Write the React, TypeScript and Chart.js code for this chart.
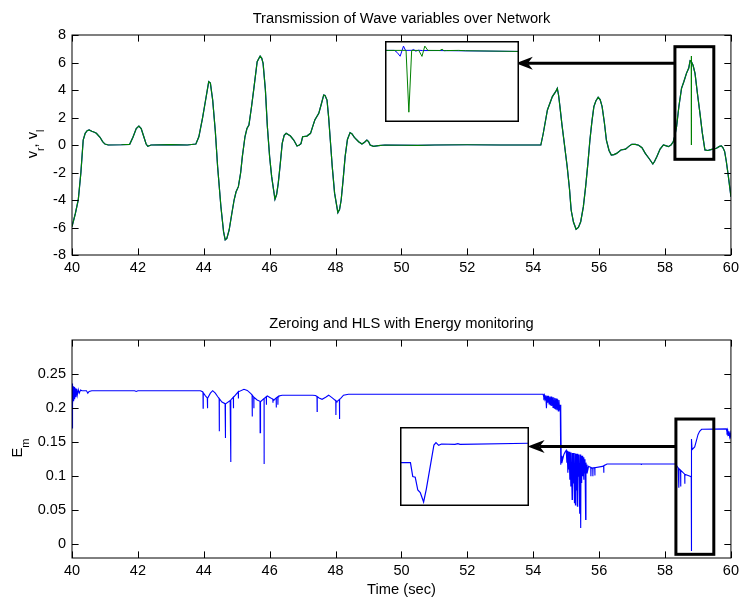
import React, { useEffect, useRef } from "react";
import { Chart, registerables } from "chart.js";

Chart.register(...registerables);

const FONT = '"Liberation Sans", Arial, Helvetica, sans-serif';

type Pt = [number, number];

// ---------- tick values ----------
const timeTicks = [40, 42, 44, 46, 48, 50, 52, 54, 56, 58, 60];
const vTicks = [-8, -6, -4, -2, 0, 2, 4, 6, 8];
const vTickLabels = ["-8", "-6", "-4", "-2", "0", "2", "4", "6", "8"];
const emTicks = [0, 0.05, 0.1, 0.15, 0.2, 0.25];
const emTickLabels = ["0", "0.05", "0.1", "0.15", "0.2", "0.25"];

// ---------- top panel: wave variables (time, value) ----------
const vrPoints: Pt[] = [
  [40.0, -5.94], [40.1, -5.0], [40.19, -4.0], [40.27, -2.0], [40.34, 0.36], [40.4, 0.85], [40.46, 1.04], [40.52, 1.09],
  [40.6, 1.0], [40.68, 0.93], [40.74, 0.85], [40.85, 0.56], [40.93, 0.25], [41.0, 0.07], [41.1, 0.0], [41.5, 0.02],
  [41.75, 0.05], [41.85, 0.56], [41.95, 1.2], [42.03, 1.38], [42.1, 1.2], [42.18, 0.6], [42.25, 0.07], [42.3, -0.1],
  [42.4, 0.0], [43.0, 0.02], [43.5, 0.0], [43.76, 0.07], [43.85, 0.6], [43.96, 1.94], [44.05, 3.2], [44.15, 4.6],
  [44.2, 4.5], [44.27, 3.27], [44.35, 1.0], [44.42, -1.58], [44.52, -4.49], [44.6, -6.3], [44.65, -6.9], [44.7, -6.8],
  [44.77, -6.18], [44.85, -5.0], [44.92, -4.0], [44.98, -3.4], [45.05, -3.03], [45.12, -2.0], [45.17, -0.85], [45.25, 0.6],
  [45.31, 1.2], [45.37, 1.45], [45.45, 2.8], [45.52, 4.12], [45.62, 6.06], [45.71, 6.47], [45.76, 6.3], [45.8, 5.94],
  [45.87, 4.0], [45.93, 1.33], [46.0, -0.9], [46.06, -2.3], [46.16, -3.95], [46.21, -3.6], [46.26, -2.79], [46.32, -1.4],
  [46.38, 0.12], [46.44, 0.7], [46.5, 0.85], [46.63, 0.65], [46.73, 0.36], [46.83, -0.07], [46.9, 0.0], [46.95, 0.1],
  [47.0, 0.6], [47.13, 0.65], [47.24, 0.85], [47.3, 1.3], [47.37, 1.82], [47.49, 2.3], [47.57, 3.0], [47.64, 3.64],
  [47.68, 3.6], [47.74, 3.27], [47.79, 2.0], [47.84, 0.36], [47.9, -1.6], [47.97, -3.5], [48.07, -4.92], [48.12, -4.7],
  [48.17, -4.0], [48.23, -2.5], [48.29, -0.85], [48.36, 0.4], [48.44, 0.9], [48.5, 0.8], [48.57, 0.56], [48.7, 0.24],
  [48.8, 0.07], [48.88, 0.2], [48.95, 0.36], [49.0, 0.25], [49.05, 0.0], [49.15, -0.1], [49.3, -0.05], [49.5, 0.0],
  [50.5, -0.02], [51.0, 0.0], [52.0, 0.02], [53.0, 0.0], [54.23, 0.0], [54.3, 0.8], [54.43, 2.55], [54.58, 3.52],
  [54.68, 3.88], [54.73, 4.12], [54.77, 3.6], [54.81, 2.79], [54.87, 1.5], [54.93, 0.36], [55.03, -1.58], [55.1, -3.2],
  [55.15, -4.73], [55.22, -5.6], [55.3, -6.13], [55.37, -6.0], [55.44, -5.58], [55.52, -4.5], [55.59, -3.03], [55.66, -1.3],
  [55.72, 0.36], [55.78, 1.7], [55.84, 2.79], [55.9, 3.2], [55.97, 3.47], [56.03, 3.3], [56.09, 2.79], [56.16, 1.6],
  [56.22, 0.36], [56.3, -0.4], [56.37, -0.73], [56.45, -0.7], [56.53, -0.61], [56.66, -0.36], [56.8, -0.3], [56.9, -0.1],
  [56.99, 0.05], [57.1, 0.05], [57.2, -0.02], [57.3, -0.2], [57.4, -0.61], [57.52, -1.0], [57.63, -1.38], [57.68, -1.2],
  [57.75, -0.85], [57.85, -0.3], [57.95, 0.0], [58.02, -0.05], [58.1, -0.12], [58.18, 0.0], [58.25, 0.24], [58.3, 0.7],
  [58.35, 1.33], [58.42, 2.8], [58.5, 4.12], [58.57, 4.6], [58.65, 5.21], [58.72, 5.6], [58.76, 6.13], [58.8, 6.06],
  [58.85, 5.8], [58.91, 5.21], [58.98, 3.8], [59.06, 2.3], [59.13, 0.9], [59.21, -0.36], [59.3, -0.4], [59.36, -0.36],
  [59.45, -0.3], [59.56, -0.24], [59.65, -0.1], [59.71, -0.07], [59.76, -0.2], [59.81, -0.48], [59.86, -1.2], [59.91, -2.06],
  [59.96, -3.0], [60.0, -3.76],
];
// the received variable shows one drop-out spike
const vlSpike: Pt[] = [[58.797, 6.08], [58.798, 0.0], [58.799, 6.47], [58.801, 6.06]];

// ---------- bottom panel: energy (time, value) ----------
const emBase: Pt[] = [
  [40.0, 0.171], [40.004, 0.236], [40.01, 0.2], [40.02, 0.234], [40.03, 0.205], [40.04, 0.232], [40.05, 0.21], [40.065, 0.231],
  [40.08, 0.213], [40.1, 0.229], [40.12, 0.216], [40.14, 0.228], [40.16, 0.219], [40.19, 0.227], [40.22, 0.222], [40.26, 0.2265],
  [40.3, 0.2256], [40.44, 0.2256], [40.48, 0.222], [40.52, 0.2245], [40.6, 0.2256], [41.9, 0.2256], [41.95, 0.2245], [42.0, 0.2256],
  [43.9, 0.2256], [43.96, 0.224], [44.05, 0.218], [44.12, 0.2145], [44.2, 0.222], [44.27, 0.2256], [44.35, 0.222], [44.42, 0.217],
  [44.55, 0.209], [44.67, 0.206], [44.8, 0.211], [44.92, 0.217], [45.05, 0.224], [45.22, 0.2276], [45.32, 0.226], [45.42, 0.2218],
  [45.52, 0.216], [45.62, 0.212], [45.73, 0.2095], [45.83, 0.214], [45.93, 0.2178], [46.03, 0.215], [46.13, 0.212], [46.2, 0.215],
  [46.28, 0.2178], [46.38, 0.219], [47.3, 0.219], [47.39, 0.2185], [47.5, 0.215], [47.59, 0.213], [47.7, 0.216], [47.79, 0.219],
  [47.9, 0.215], [48.04, 0.2095], [48.15, 0.214], [48.24, 0.219], [48.39, 0.2203], [54.3, 0.2203],
  [54.32, 0.216], [54.34, 0.219], [54.36, 0.212], [54.38, 0.219], [54.4, 0.2], [54.42, 0.218], [54.44, 0.208], [54.46, 0.218],
  [54.48, 0.206], [54.5, 0.217], [54.52, 0.204], [54.54, 0.217], [54.56, 0.203], [54.58, 0.216], [54.6, 0.201], [54.62, 0.216],
  [54.64, 0.2], [54.66, 0.215], [54.68, 0.198], [54.7, 0.214], [54.72, 0.197], [54.74, 0.213], [54.76, 0.196], [54.78, 0.212],
  [54.8, 0.197], [54.82, 0.205], [54.83, 0.117], [54.84, 0.196], [54.85, 0.12], [54.87, 0.13], [54.89, 0.124], [54.93, 0.132],
  [54.97, 0.136], [55.0, 0.138], [55.02, 0.12], [55.03, 0.137], [55.05, 0.105], [55.06, 0.136], [55.08, 0.11], [55.09, 0.136],
  [55.11, 0.095], [55.12, 0.135], [55.14, 0.085], [55.15, 0.135], [55.18, 0.066], [55.19, 0.134], [55.21, 0.09], [55.22, 0.134],
  [55.25, 0.061], [55.26, 0.134], [55.28, 0.058], [55.29, 0.133], [55.31, 0.08], [55.32, 0.133], [55.34, 0.056], [55.35, 0.133],
  [55.37, 0.1], [55.38, 0.132], [55.41, 0.045], [55.42, 0.132], [55.44, 0.024], [55.45, 0.13], [55.47, 0.09], [55.48, 0.13],
  [55.5, 0.1], [55.51, 0.128], [55.53, 0.095], [55.54, 0.127], [55.56, 0.105], [55.57, 0.125], [55.59, 0.0365], [55.6, 0.12],
  [55.62, 0.105], [55.63, 0.117], [55.65, 0.108], [55.68, 0.1145], [55.78, 0.112], [56.1, 0.1145], [56.24, 0.118], [58.32, 0.118],
  [58.4, 0.112], [58.6, 0.103], [58.76, 0.1], [58.795, 0.099], [58.8, -0.0098], [58.805, 0.1545], [58.82, 0.139], [58.9, 0.143],
  [58.95, 0.152], [59.0, 0.161], [59.05, 0.166], [59.11, 0.169], [59.86, 0.1696], [59.88, 0.165], [59.9, 0.168], [59.92, 0.16],
  [59.94, 0.166], [59.96, 0.158], [59.98, 0.163], [60.0, 0.155],
];
const emSpikeTimes = [43.98, 44.11, 44.47, 44.65, 44.82, 44.9, 45.05, 45.47, 45.52, 45.71, 45.83, 45.9, 46.1, 46.2, 46.25, 47.44, 48.01, 48.12, 55.75, 55.81, 55.87, 56.14, 57.28, 58.42, 58.475, 58.6];
const emSpikeValues = [0.2, 0.2, 0.166, 0.156, 0.121, 0.2, 0.214, 0.1876, 0.2, 0.164, 0.118, 0.205, 0.208, 0.201, 0.205, 0.195, 0.19, 0.184, 0.1, 0.1, 0.101, 0.105, 0.1165, 0.083, 0.085, 0.089];

// ---------- zoomed insets (normalised 0..100 coordinates) ----------
const insetTopBlue: Pt[] = [
  [0, 88.4], [7, 88.4], [9, 86], [11.3, 81.2], [13.8, 93.7], [15.3, 88.4], [20, 88.5], [21.4, 89.5], [22.9, 87.5], [25, 88.6],
  [28, 88.2], [40, 88.2], [100, 87.1],
];
const insetTopGreen: Pt[] = [
  [0, 88.4], [13, 88.4], [15.7, 88.5], [17.8, 12.1], [19.9, 88.4], [25.2, 88.4], [27.6, 81], [29.7, 93.7], [32, 88.4], [41, 88.3],
  [42.6, 89.8], [44, 88], [46, 88.2], [55, 88.4], [60, 88], [100, 87.1],
];
const insetBottomEm: Pt[] = [
  [0, 55], [8.1, 55], [9.9, 37.3], [11.8, 36.4], [13.8, 20.2], [15.7, 17.1], [18.3, 5.1], [20.4, 21.5], [26.3, 77.2], [27.9, 80.2],
  [30, 76.8], [32.1, 78.5], [42.6, 78.1], [44.9, 78.9], [46.5, 78.1], [100, 79.4],
];

// ---------- helpers ----------
const BLUE = "#0000ff";
const GREEN = "#008000";

const toXY = (pts: Pt[]) => pts.map(([x, y]) => ({ x, y }));

function buildVl(): Pt[] {
  const pts = vrPoints.filter(([t]) => t < 58.79 || t > 58.81).concat(vlSpike);
  return pts.sort((a, b) => a[0] - b[0]);
}

function baseAt(t: number): number {
  for (let i = 1; i < emBase.length; i++) {
    const [t0, v0] = emBase[i - 1];
    const [t1, v1] = emBase[i];
    if (t >= t0 && t <= t1) return v0 + ((v1 - v0) * (t - t0)) / (t1 - t0 || 1);
  }
  return emBase[emBase.length - 1][1];
}

function buildEm(): Pt[] {
  const pts: Pt[] = emBase.slice();
  emSpikeTimes.forEach((t, i) => {
    const b = baseAt(t);
    pts.push([t - 0.004, b], [t, emSpikeValues[i]], [t + 0.004, b]);
  });
  return pts.sort((a, b) => a[0] - b[0]);
}

type Part = { text: string; sub?: boolean };

interface PanelSpec {
  title: string;
  titleY: number;
  yLabel: Part[];
  yLabelX: number;
  yLabelCY: number;
  subOffset: number;
  subSize: number;
  xLabel?: string;
  xLabelY?: number;
  yTicks: number[];
  yTickLabels: string[];
  rect: { x1: number; x2: number; y1: number; y2: number };
  arrow: { y: number; tipX: number; fromX: number };
}

function panelPlugin(spec: PanelSpec) {
  return {
    id: "matlabPanel",
    afterDatasetsDraw(chart: any) {
      const ctx: CanvasRenderingContext2D = chart.ctx;
      const xs = chart.scales.x;
      const ys = chart.scales.y;
      ctx.save();
      ctx.strokeStyle = "#000";
      ctx.fillStyle = "#000";
      const rx1 = xs.getPixelForValue(spec.rect.x1);
      const rx2 = xs.getPixelForValue(spec.rect.x2);
      const ry1 = ys.getPixelForValue(spec.rect.y1);
      const ry2 = ys.getPixelForValue(spec.rect.y2);
      ctx.lineWidth = 3;
      ctx.strokeRect(rx1, ry1, rx2 - rx1, ry2 - ry1);
      const ay = ys.getPixelForValue(spec.arrow.y);
      const tx = xs.getPixelForValue(spec.arrow.tipX);
      const fx = xs.getPixelForValue(spec.arrow.fromX);
      ctx.beginPath();
      ctx.moveTo(fx, ay);
      ctx.lineTo(tx + 12, ay);
      ctx.stroke();
      ctx.beginPath();
      ctx.moveTo(tx, ay);
      ctx.lineTo(tx + 17, ay - 6.5);
      ctx.lineTo(tx + 12, ay);
      ctx.lineTo(tx + 17, ay + 6.5);
      ctx.closePath();
      ctx.fill();
      ctx.restore();
    },
    afterDraw(chart: any) {
      const ctx: CanvasRenderingContext2D = chart.ctx;
      const { left, right, top, bottom } = chart.chartArea;
      const xs = chart.scales.x;
      const ys = chart.scales.y;
      const tl = 6.6;
      ctx.save();
      ctx.strokeStyle = "#000";
      ctx.lineWidth = 1;
      ctx.beginPath();
      for (const v of timeTicks) {
        const p = Math.round(xs.getPixelForValue(v)) + 0.5;
        ctx.moveTo(p, bottom);
        ctx.lineTo(p, bottom - tl);
        ctx.moveTo(p, top);
        ctx.lineTo(p, top + tl);
      }
      for (const v of spec.yTicks) {
        const p = Math.round(ys.getPixelForValue(v)) + 0.5;
        ctx.moveTo(left, p);
        ctx.lineTo(left + tl, p);
        ctx.moveTo(right, p);
        ctx.lineTo(right - tl, p);
      }
      ctx.stroke();
      ctx.strokeRect(left, top, right - left, bottom - top);

      ctx.fillStyle = "#000";
      ctx.textAlign = "center";
      ctx.textBaseline = "middle";
      ctx.font = `14.7px ${FONT}`;
      ctx.fillText(spec.title, (left + right) / 2, spec.titleY);
      if (spec.xLabel) ctx.fillText(spec.xLabel, (left + right) / 2, spec.xLabelY!);

      ctx.translate(spec.yLabelX, spec.yLabelCY);
      ctx.rotate(-Math.PI / 2);
      ctx.textAlign = "left";
      ctx.textBaseline = "alphabetic";
      const mainFont = `14.7px ${FONT}`;
      const subFont = `${spec.subSize}px ${FONT}`;
      let total = 0;
      for (const p of spec.yLabel) {
        ctx.font = p.sub ? subFont : mainFont;
        total += ctx.measureText(p.text).width;
      }
      let x = -total / 2;
      for (const p of spec.yLabel) {
        ctx.font = p.sub ? subFont : mainFont;
        ctx.fillText(p.text, x, p.sub ? spec.subOffset : 0);
        x += ctx.measureText(p.text).width;
      }
      ctx.restore();
    },
  };
}

function mainConfig(
  datasets: any[],
  yMin: number,
  yMax: number,
  padTop: number,
  padBottom: number,
  spec: PanelSpec
): any {
  const tickFont = { family: FONT, size: 14.5 };
  return {
    type: "scatter",
    data: { datasets },
    options: {
      responsive: false,
      animation: false,
      devicePixelRatio: 1,
      events: [],
      layout: { padding: { left: 0, right: 8.5, top: padTop, bottom: padBottom } },
      plugins: { legend: { display: false }, tooltip: { enabled: false }, title: { display: false } },
      scales: {
        x: {
          type: "linear",
          min: 40,
          max: 60,
          grid: { display: false, drawTicks: false, tickLength: 0 },
          border: { display: false },
          afterBuildTicks: (s: any) => {
            s.ticks = timeTicks.map((v) => ({ value: v }));
          },
          afterFit: (s: any) => {
            s.height = 30;
          },
          ticks: {
            color: "#000",
            font: tickFont,
            padding: 4,
            maxRotation: 0,
            autoSkip: false,
            callback: (v: number) => String(v),
          },
        },
        y: {
          type: "linear",
          min: yMin,
          max: yMax,
          grid: { display: false, drawTicks: false, tickLength: 0 },
          border: { display: false },
          afterBuildTicks: (s: any) => {
            s.ticks = spec.yTicks.map((v) => ({ value: v }));
          },
          afterFit: (s: any) => {
            s.width = 72;
          },
          ticks: {
            color: "#000",
            font: tickFont,
            padding: 6,
            autoSkip: false,
            callback: (v: number) => {
              const i = spec.yTicks.findIndex((t) => Math.abs(t - v) < 1e-9);
              return i >= 0 ? spec.yTickLabels[i] : "";
            },
          },
        },
      },
    },
    plugins: [panelPlugin(spec)],
  };
}

const insetBorder = {
  id: "insetBorder",
  beforeDraw(chart: any) {
    const ctx = chart.ctx;
    ctx.save();
    ctx.fillStyle = "#fff";
    ctx.fillRect(0, 0, chart.width, chart.height);
    ctx.restore();
  },
  afterDraw(chart: any) {
    const ctx = chart.ctx;
    ctx.save();
    ctx.strokeStyle = "#000";
    ctx.lineWidth = 1.5;
    ctx.strokeRect(0.75, 0.75, chart.width - 1.5, chart.height - 1.5);
    ctx.restore();
  },
};

function insetConfig(datasets: any[]): any {
  return {
    type: "scatter",
    data: { datasets },
    options: {
      responsive: false,
      animation: false,
      devicePixelRatio: 1,
      events: [],
      layout: { padding: 0 },
      plugins: { legend: { display: false }, tooltip: { enabled: false } },
      scales: {
        x: { type: "linear", min: 0, max: 100, display: false },
        y: { type: "linear", min: 0, max: 100, display: false },
      },
    },
    plugins: [insetBorder],
  };
}

function lineDs(pts: Pt[], color: string, width = 1.2) {
  return {
    data: toXY(pts),
    borderColor: color,
    backgroundColor: color,
    borderWidth: width,
    showLine: true,
    pointRadius: 0,
    fill: false,
    tension: 0,
  };
}

function ChartBox(props: { left: number; top: number; width: number; height: number; make: () => any }) {
  const ref = useRef<HTMLCanvasElement>(null);
  useEffect(() => {
    const chart = new Chart(ref.current!, props.make());
    return () => chart.destroy();
  }, []);
  return (
    <canvas
      ref={ref}
      width={props.width}
      height={props.height}
      style={{
        position: "absolute",
        left: props.left,
        top: props.top,
        width: props.width,
        height: props.height,
        display: "block",
      }}
    />
  );
}

const topSpec: PanelSpec = {
  title: "Transmission of Wave variables over Network",
  titleY: 19,
  yLabel: [{ text: "v" }, { text: "r", sub: true }, { text: ", v" }, { text: "l", sub: true }],
  yLabelX: 37,
  yLabelCY: 144,
  subOffset: 7,
  subSize: 10.5,
  yTicks: vTicks,
  yTickLabels: vTickLabels,
  rect: { x1: 58.3, x2: 59.48, y1: 7.15, y2: -1.04 },
  arrow: { y: 5.94, tipX: 53.47, fromX: 58.3 },
};

const bottomSpec: PanelSpec = {
  title: "Zeroing and HLS with Energy monitoring",
  titleY: 23.5,
  yLabel: [{ text: "E" }, { text: "m", sub: true }],
  yLabelX: 22,
  yLabelCY: 148,
  subOffset: 7,
  subSize: 11,
  xLabel: "Time (sec)",
  xLabelY: 290,
  yTicks: emTicks,
  yTickLabels: emTickLabels,
  rect: { x1: 58.33, x2: 59.48, y1: 0.184, y2: -0.0146 },
  arrow: { y: 0.1437, tipX: 53.83, fromX: 58.33 },
};

export default function App() {
  return (
    <div
      style={{
        position: "absolute",
        left: 0,
        top: 0,
        width: 743,
        height: 599,
        background: "#fff",
        overflow: "hidden",
      }}
    >
      <ChartBox
        left={0}
        top={0}
        width={743}
        height={300}
        make={() =>
          mainConfig([lineDs(buildVl(), GREEN), lineDs(vrPoints, BLUE)], -8, 8, 35, 15, topSpec)
        }
      />
      <ChartBox
        left={0}
        top={300}
        width={743}
        height={299}
        make={() => mainConfig([lineDs(buildEm(), BLUE, 1.1)], -0.02, 0.3, 40, 11, bottomSpec)}
      />
      <ChartBox
        left={385}
        top={41}
        width={134}
        height={81}
        make={() => insetConfig([lineDs(insetTopGreen, GREEN, 1), lineDs(insetTopBlue, BLUE, 1)])}
      />
      <ChartBox
        left={400}
        top={427}
        width={129}
        height={79}
        make={() => insetConfig([lineDs(insetBottomEm, BLUE, 1.2)])}
      />
    </div>
  );
}
